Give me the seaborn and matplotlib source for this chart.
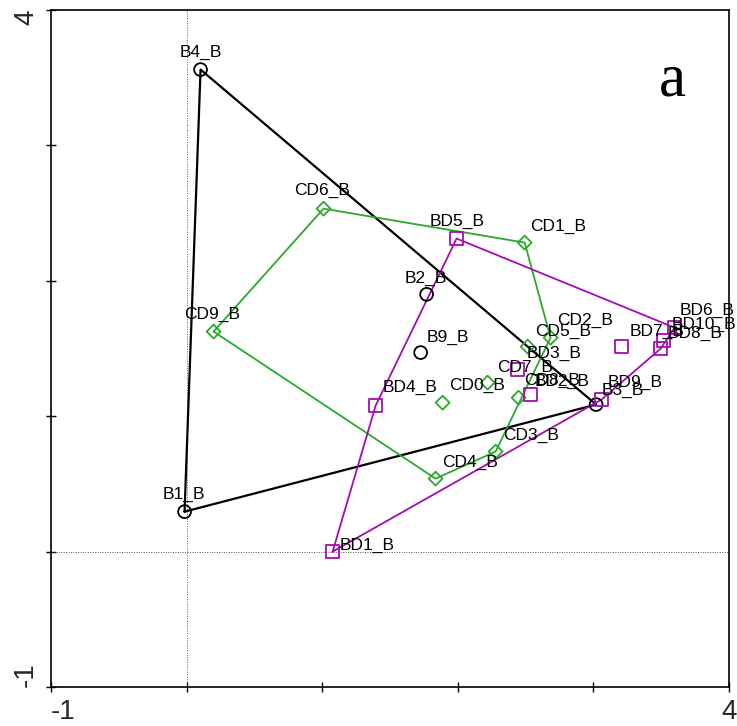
import numpy as np
import pandas as pd
import matplotlib
matplotlib.use("Agg")
import matplotlib.pyplot as plt
import seaborn as sns

# ---------------- data ----------------
b_labels = ["B1_B", "B2_B", "B3_B", "B4_B", "B9_B"]
b_x = [-0.015, 1.77, 3.02, 0.103, 1.726]
b_y = [0.295, 1.90, 1.086, 3.56, 1.47]

cd_labels = ["CD0_B", "CD1_B", "CD2_B", "CD3_B", "CD4_B",
             "CD5_B", "CD6_B", "CD7_B", "CD8_B", "CD9_B"]
cd_x = [1.888, 2.493, 2.684, 2.279, 1.836, 2.515, 1.010, 2.220, 2.448, 0.199]
cd_y = [1.100, 2.282, 1.580, 0.739, 0.539, 1.514, 2.533, 1.248, 1.137, 1.625]

bd_labels = ["BD1_B", "BD2_B", "BD3_B", "BD4_B", "BD5_B",
             "BD6_B", "BD7_B", "BD8_B", "BD9_B", "BD10_B"]
bd_x = [1.077, 2.537, 2.441, 1.394, 1.991, 3.599, 3.208, 3.496, 3.060, 3.518]
bd_y = [0.000, 1.160, 1.344, 1.078, 2.312, 1.654, 1.514, 1.499, 1.123, 1.558]

x_ticks = [-1, 0, 1, 2, 3, 4]
y_ticks = [-1, 0, 1, 2, 3, 4]
panel_letter = "a"

# ---------------- styling (separate from data) ----------------
label_offsets = {  # pixel offsets of label (left edge, vertical centre) from marker
    "B4_B": (-21, 17), "B1_B": (-22, 17), "B2_B": (-22, 16),
    "B9_B": (6, 15), "B3_B": (6, 14),
    "CD6_B": (-29, 18), "CD1_B": (5, 16), "CD9_B": (-29, 17),
    "CD4_B": (7, 16), "CD3_B": (7, 16), "CD2_B": (7, 17),
    "CD5_B": (7, 15), "CD7_B": (9, 15), "CD0_B": (7, 17),
    "CD8_B": (6, 17),
    "BD5_B": (-27, 17), "BD1_B": (7, 6), "BD4_B": (7, 18),
    "BD3_B": (9, 16), "BD2_B": (4, 13), "BD9_B": (6, 17),
    "BD7_B": (8, 15), "BD6_B": (5, 17), "BD10_B": (8, 16),
    "BD8_B": (7, 15),
}

sns.set_theme(style="white")
plt.rcParams["font.family"] = ["Liberation Sans", "DejaVu Sans"]

fig = plt.figure(figsize=(7.37, 7.26), dpi=100)
ax = fig.add_axes([51 / 737, 1 - 687 / 726, 678 / 737, 677 / 726])


def hull(xs, ys):
    pts = sorted(zip(xs, ys))

    def cross(o, a, b):
        return (a[0] - o[0]) * (b[1] - o[1]) - (a[1] - o[1]) * (b[0] - o[0])

    lower, upper = [], []
    for p in pts:
        while len(lower) >= 2 and cross(lower[-2], lower[-1], p) <= 0:
            lower.pop()
        lower.append(p)
    for p in reversed(pts):
        while len(upper) >= 2 and cross(upper[-2], upper[-1], p) <= 0:
            upper.pop()
        upper.append(p)
    h = lower[:-1] + upper[:-1]
    h.append(h[0])
    return [p[0] for p in h], [p[1] for p in h]


# reference lines through origin
ax.axvline(0, color="#555555", lw=0.7, ls=(0, (1, 1.5)), zorder=1)
ax.axhline(0, color="#555555", lw=0.7, ls=(0, (1, 1.5)), zorder=1)

groups = [
    (b_labels, b_x, b_y, "black", "o", 85, 1.6),
    (cd_labels, cd_x, cd_y, "#2ca82c", "D", 50, 1.3),
    (bd_labels, bd_x, bd_y, "#a40cb4", "s", 95, 1.3),
]

for labels, xs, ys, col, mk, sz, lw in groups:
    hx, hy = hull(xs, ys)
    hdf = pd.DataFrame({"x": hx, "y": hy})
    sns.lineplot(data=hdf, x="x", y="y", sort=False, estimator=None,
                 color=col, lw=lw, ax=ax, zorder=2)
    df = pd.DataFrame({"x": xs, "y": ys})
    sns.scatterplot(data=df, x="x", y="y", marker=mk, s=sz, ax=ax, zorder=3)
    coll = ax.collections[-1]
    coll.set_facecolor("none")
    coll.set_edgecolor(col)
    coll.set_linewidth(1.3)
    for lab, x, y in zip(labels, xs, ys):
        dx, dy = label_offsets[lab]
        ax.annotate(lab, (x, y), xytext=(dx, dy), textcoords="offset pixels",
                    ha="left", va="center", fontsize=12.5, color="black", zorder=4)

ax.set_xlim(-1, 4)
ax.set_ylim(-1, 4)
ax.set_xticks(x_ticks)
ax.set_yticks(y_ticks)
ax.set_xticklabels([str(t) if t in (x_ticks[0], x_ticks[-1]) else "" for t in x_ticks])
ax.set_yticklabels([str(t) if t in (y_ticks[0], y_ticks[-1]) else "" for t in y_ticks],
                   rotation=90)
ax.tick_params(axis="both", which="both", direction="inout", length=7, width=1,
               labelsize=20, color="black", bottom=True, left=True)
ax.tick_params(axis="x", pad=5)
ax.tick_params(axis="y", pad=5)
xl = ax.get_xticklabels()
xl[0].set_ha("left")
xl[-1].set_ha("center")
yl = ax.get_yticklabels()
yl[0].set_va("bottom")
yl[-1].set_va("top")
ax.set_xlabel("")
ax.set_ylabel("")
for sp in ax.spines.values():
    sp.set_visible(True)
    sp.set_color("black")
    sp.set_linewidth(1.2)

ax.text(0.916, 0.874, panel_letter, transform=ax.transAxes, ha="center",
        va="baseline", fontsize=44, family="Liberation Serif", color="black")

if ax.get_legend() is not None:
    ax.get_legend().remove()

fig.savefig("out.png", dpi=100)
